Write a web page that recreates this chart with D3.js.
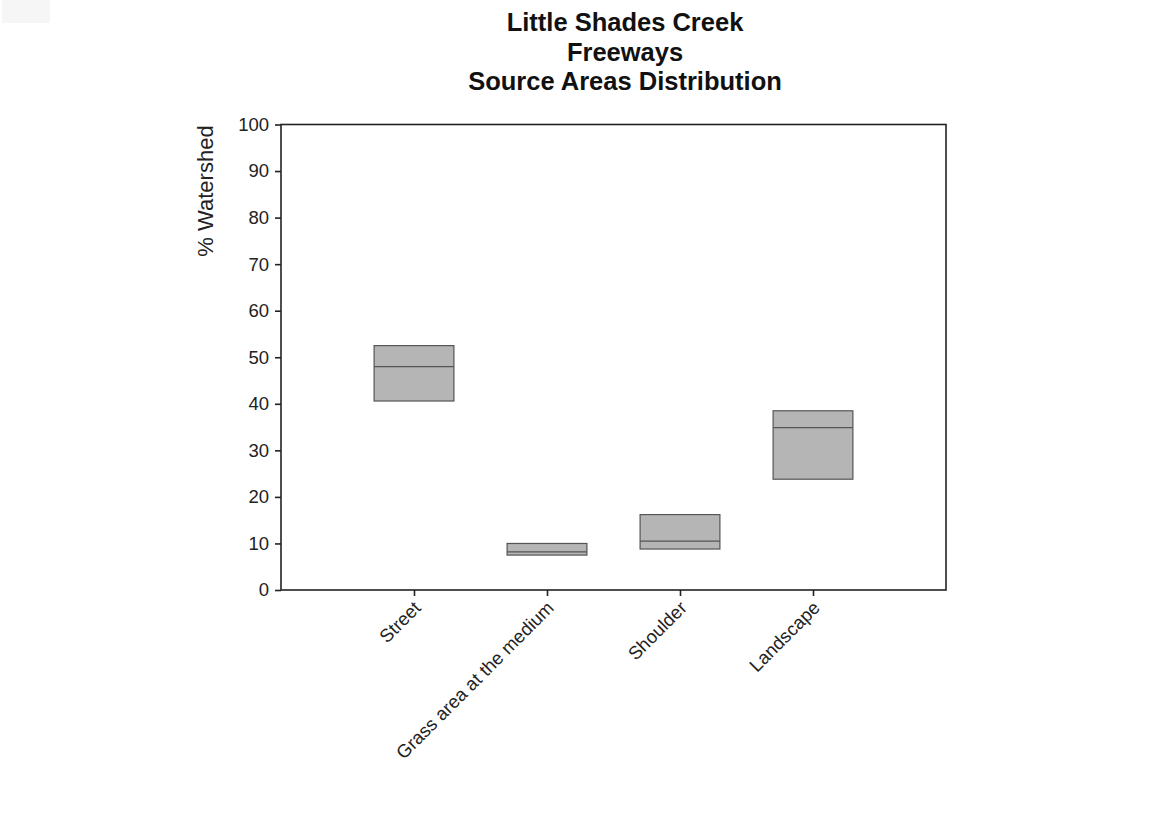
<!DOCTYPE html>
<html><head><meta charset="utf-8">
<script src="https://cdn.jsdelivr.net/npm/d3@7/dist/d3.min.js"></script>
<style>body{margin:0;background:#fff}svg{display:block}text{font-family:"Liberation Sans",Arial,sans-serif}</style>
</head><body>
<svg id="c" width="1167" height="814"></svg>
<script>
const categories = ["Street", "Grass area at the medium", "Shoulder", "Landscape"];
const q1 = [40.6, 7.5, 8.8, 23.8];
const median = [48.0, 8.2, 10.5, 34.9];
const q3 = [52.5, 10.0, 16.2, 38.5];
const yTicks = [0, 10, 20, 30, 40, 50, 60, 70, 80, 90, 100];
const titleLines = ["Little Shades Creek", "Freeways", "Source Areas Distribution"];

const svg = d3.select("#c");
svg.append("rect").attr("x", 2).attr("y", 0).attr("width", 48).attr("height", 23).attr("fill", "#f6f6f6");

const L = 281, R = 946, T = 124.5, B = 590;
const x = d3.scaleLinear().domain([0, categories.length + 1]).range([L, R]);
const y = d3.scaleLinear().domain([0, 100]).range([B, T]);
const boxW = x(0.6) - x(0);

// frame
svg.append("rect").attr("x", L).attr("y", T).attr("width", R - L).attr("height", B - T)
  .attr("fill", "none").attr("stroke", "#222").attr("stroke-width", 1.6);

// y axis
const ya = svg.append("g").attr("transform", `translate(${L},0)`)
  .call(d3.axisLeft(y).tickValues(yTicks).tickSize(6).tickPadding(6).tickFormat(d3.format("d")));
ya.select(".domain").remove();
ya.selectAll("line").attr("stroke", "#222").attr("stroke-width", 1.6);
ya.selectAll("text").attr("font-size", 18.5).attr("fill", "#222").attr("font-family", "Liberation Sans, Arial, sans-serif");

// x axis
const xa = svg.append("g").attr("transform", `translate(0,${B})`)
  .call(d3.axisBottom(x).tickValues(categories.map((c, i) => i + 1)).tickSize(6).tickFormat(""));
xa.select(".domain").remove();
xa.selectAll("line").attr("stroke", "#222").attr("stroke-width", 1.6);

svg.append("g").selectAll("text").data(categories).join("text")
  .attr("transform", (d, i) => `translate(${x(i + 1) + 8},${B + 19}) rotate(-45)`)
  .attr("text-anchor", "end").attr("font-size", 18.5).attr("fill", "#222")
  .text(d => d);

// boxes
const g = svg.append("g");
categories.forEach((c, i) => {
  g.append("rect").attr("x", x(i + 1) - boxW / 2).attr("y", y(q3[i]))
    .attr("width", boxW).attr("height", y(q1[i]) - y(q3[i]))
    .attr("fill", "#b5b5b5").attr("stroke", "#555").attr("stroke-width", 1.2);
  g.append("line").attr("x1", x(i + 1) - boxW / 2).attr("x2", x(i + 1) + boxW / 2)
    .attr("y1", y(median[i])).attr("y2", y(median[i]))
    .attr("stroke", "#555").attr("stroke-width", 1.2);
});

// y label
svg.append("text").attr("transform", "translate(213,191) rotate(-90)")
  .attr("text-anchor", "middle").attr("font-size", 22).attr("fill", "#222").text("% Watershed");

// title
svg.append("g").selectAll("text").data(titleLines).join("text")
  .attr("x", 625).attr("y", (d, i) => 31 + i * 29.5)
  .attr("text-anchor", "middle").attr("font-size", 25.5).attr("font-weight", "bold").attr("fill", "#111")
  .text(d => d);
</script>
</body></html>
